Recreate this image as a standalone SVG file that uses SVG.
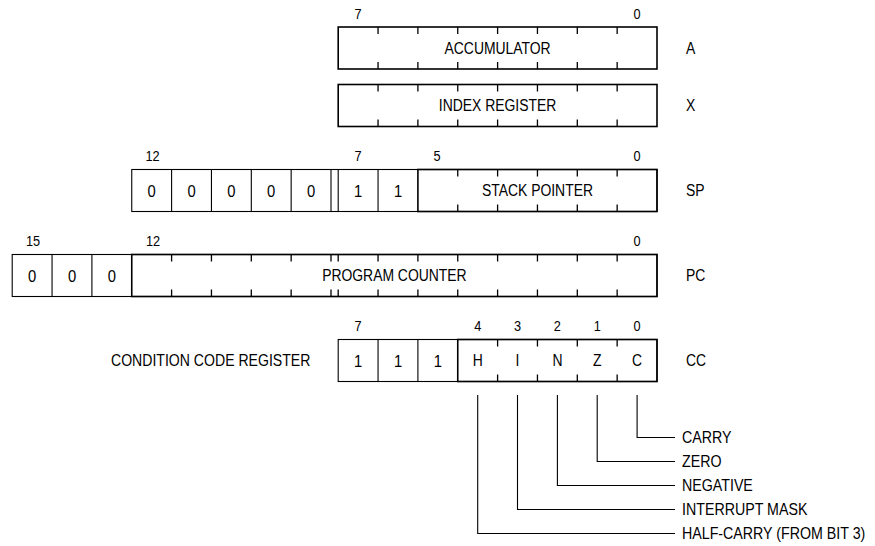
<svg xmlns="http://www.w3.org/2000/svg" width="875" height="546" viewBox="0 0 875 546">
<style>
  .bg{fill:#fff}
  .box{fill:none;stroke:#000;stroke-width:1.1}
  .fld{fill:none;stroke:#000;stroke-width:1.6}
  .ln{stroke:#000;stroke-width:1.1;fill:none}
  .tk{stroke:#000;stroke-width:1.3;fill:none}
  text{font-family:"Liberation Sans",Arial,sans-serif;fill:#000}
  .t{font-size:16px}
  .d{font-size:17px}
  .s{font-size:14.5px}
  .m{text-anchor:middle}
</style>
<rect class="bg" x="0" y="0" width="875" height="546"/>

<!-- Accumulator -->
<g id="reg-a">
  <rect class="fld" x="338.2" y="27" width="318.8" height="42"/>
  <path class="tk" d="M378.05 27v7M417.9 27v7M457.75 27v7M497.6 27v7M537.45 27v7M577.3 27v7M617.15 27v7M378.05 69v-7M417.9 69v-7M457.75 69v-7M497.6 69v-7M537.45 69v-7M577.3 69v-7M617.15 69v-7"/>
  <text class="s m" transform="translate(358.1 18.5) scale(0.88 1)">7</text>
  <text class="s m" transform="translate(637.1 18.5) scale(0.88 1)">0</text>
  <text class="t m" transform="translate(497.6 53.7) scale(0.87 1)">ACCUMULATOR</text>
  <text class="t" transform="translate(686 53.7) scale(0.87 1)">A</text>
</g>

<!-- Index register -->
<g id="reg-x">
  <rect class="fld" x="338.2" y="84.5" width="318.8" height="42"/>
  <path class="tk" d="M378.05 84.5v7M417.9 84.5v7M457.75 84.5v7M497.6 84.5v7M537.45 84.5v7M577.3 84.5v7M617.15 84.5v7M378.05 126.5v-7M417.9 126.5v-7M457.75 126.5v-7M497.6 126.5v-7M537.45 126.5v-7M577.3 126.5v-7M617.15 126.5v-7"/>
  <text class="t m" transform="translate(497.6 111.2) scale(0.87 1)">INDEX REGISTER</text>
  <text class="t" transform="translate(686 111.2) scale(0.87 1)">X</text>
</g>

<!-- Stack pointer -->
<g id="reg-sp">
  <rect class="box" x="131.75" y="169.5" width="525.25" height="42"/>
  <path class="ln" d="M171.6 169.5v42M211.45 169.5v42M251.3 169.5v42M291.15 169.5v42M331 169.5v42M338.2 169.5v42M378.05 169.5v42"/>
  <rect class="fld" x="417.9" y="169.5" width="239.1" height="42"/>
  <path class="tk" d="M457.75 169.5v7M497.6 169.5v7M537.45 169.5v7M577.3 169.5v7M617.15 169.5v7M457.75 211.5v-7M497.6 211.5v-7M537.45 211.5v-7M577.3 211.5v-7M617.15 211.5v-7"/>
  <text class="s m" transform="translate(152.5 161) scale(0.88 1)">12</text>
  <text class="s m" transform="translate(358.1 161) scale(0.88 1)">7</text>
  <text class="s m" transform="translate(437 161) scale(0.88 1)">5</text>
  <text class="s m" transform="translate(637.1 161) scale(0.88 1)">0</text>
  <text class="d m" transform="translate(151.7 196.8) scale(0.87 1)">0</text>
  <text class="d m" transform="translate(191.5 196.8) scale(0.87 1)">0</text>
  <text class="d m" transform="translate(231.4 196.8) scale(0.87 1)">0</text>
  <text class="d m" transform="translate(271.2 196.8) scale(0.87 1)">0</text>
  <text class="d m" transform="translate(311.1 196.8) scale(0.87 1)">0</text>
  <text class="d m" transform="translate(358.1 196.8) scale(0.87 1)">1</text>
  <text class="d m" transform="translate(398 196.8) scale(0.87 1)">1</text>
  <text class="t m" transform="translate(537.45 196.2) scale(0.87 1)">STACK POINTER</text>
  <text class="t" transform="translate(686 196.2) scale(0.87 1)">SP</text>
</g>

<!-- Program counter -->
<g id="reg-pc">
  <rect class="box" x="12.2" y="254.5" width="644.8" height="42"/>
  <path class="ln" d="M52.05 254.5v42M91.9 254.5v42"/>
  <rect class="fld" x="131.75" y="254.5" width="525.25" height="42"/>
  <path class="tk" d="M171.6 254.5v7M211.45 254.5v7M251.3 254.5v7M291.15 254.5v7M331 254.5v7M338.2 254.5v7M378.05 254.5v7M417.9 254.5v7M457.75 254.5v7M497.6 254.5v7M537.45 254.5v7M577.3 254.5v7M617.15 254.5v7M171.6 296.5v-7M211.45 296.5v-7M251.3 296.5v-7M291.15 296.5v-7M331 296.5v-7M338.2 296.5v-7M378.05 296.5v-7M417.9 296.5v-7M457.75 296.5v-7M497.6 296.5v-7M537.45 296.5v-7M577.3 296.5v-7M617.15 296.5v-7"/>
  <text class="s m" transform="translate(33 246) scale(0.88 1)">15</text>
  <text class="s m" transform="translate(153 246) scale(0.88 1)">12</text>
  <text class="s m" transform="translate(637.1 246) scale(0.88 1)">0</text>
  <text class="d m" transform="translate(32.1 281.8) scale(0.87 1)">0</text>
  <text class="d m" transform="translate(72 281.8) scale(0.87 1)">0</text>
  <text class="d m" transform="translate(111.8 281.8) scale(0.87 1)">0</text>
  <text class="t m" transform="translate(394.4 281.2) scale(0.87 1)">PROGRAM COUNTER</text>
  <text class="t" transform="translate(686 281.2) scale(0.87 1)">PC</text>
</g>

<!-- Condition code register -->
<g id="reg-cc">
  <text class="t" transform="translate(111 366.2) scale(0.88 1)">CONDITION CODE REGISTER</text>
  <rect class="box" x="338.2" y="339.5" width="318.8" height="42"/>
  <path class="ln" d="M378.05 339.5v42M417.9 339.5v42"/>
  <rect class="fld" x="457.75" y="339.5" width="199.25" height="42"/>
  <path class="tk" d="M497.6 339.5v7M537.45 339.5v7M577.3 339.5v7M617.15 339.5v7M497.6 381.5v-7M537.45 381.5v-7M577.3 381.5v-7M617.15 381.5v-7"/>
  <text class="s m" transform="translate(358.1 331) scale(0.88 1)">7</text>
  <text class="s m" transform="translate(477.7 331) scale(0.88 1)">4</text>
  <text class="s m" transform="translate(517.5 331) scale(0.88 1)">3</text>
  <text class="s m" transform="translate(557.4 331) scale(0.88 1)">2</text>
  <text class="s m" transform="translate(597.2 331) scale(0.88 1)">1</text>
  <text class="s m" transform="translate(637.1 331) scale(0.88 1)">0</text>
  <text class="d m" transform="translate(358.1 366.8) scale(0.87 1)">1</text>
  <text class="d m" transform="translate(398 366.8) scale(0.87 1)">1</text>
  <text class="d m" transform="translate(437.8 366.8) scale(0.87 1)">1</text>
  <text class="t m" transform="translate(477.7 366.2) scale(0.87 1)">H</text>
  <text class="t m" transform="translate(517.5 366.2) scale(0.87 1)">I</text>
  <text class="t m" transform="translate(557.4 366.2) scale(0.87 1)">N</text>
  <text class="t m" transform="translate(597.2 366.2) scale(0.87 1)">Z</text>
  <text class="t m" transform="translate(637.1 366.2) scale(0.87 1)">C</text>
  <text class="t" transform="translate(686 366.2) scale(0.87 1)">CC</text>
</g>

<!-- Connectors -->
<g id="connectors">
  <path class="ln" d="M637.1 395V437.5H675"/>
  <path class="ln" d="M597.2 395V461.5H675"/>
  <path class="ln" d="M557.4 395V485.5H675"/>
  <path class="ln" d="M517.5 395V509.5H675"/>
  <path class="ln" d="M477.7 395V533.5H675"/>
</g>

<!-- Flag labels -->
<g id="flag-carry"><text class="t" transform="translate(682 443.2) scale(0.89 1)">CARRY</text></g>
<g id="flag-zero"><text class="t" transform="translate(682 467.2) scale(0.89 1)">ZERO</text></g>
<g id="flag-negative"><text class="t" transform="translate(682 491.2) scale(0.89 1)">NEGATIVE</text></g>
<g id="flag-interrupt"><text class="t" transform="translate(682 515.2) scale(0.89 1)">INTERRUPT MASK</text></g>
<g id="flag-halfcarry"><text class="t" transform="translate(682 539.2) scale(0.89 1)">HALF-CARRY (FROM BIT 3)</text></g>
</svg>
